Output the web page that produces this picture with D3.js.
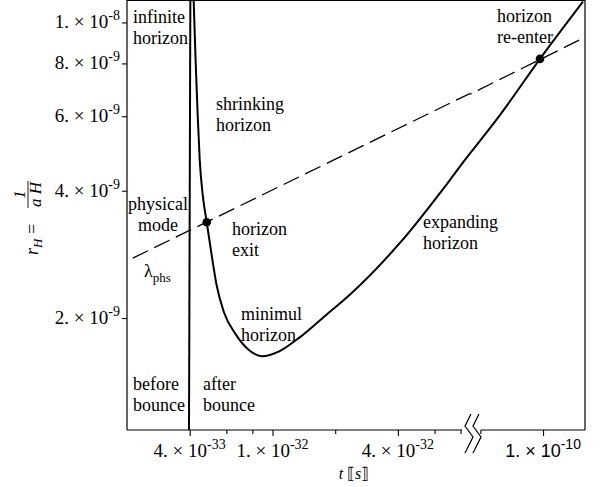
<!DOCTYPE html>
<html>
<head>
<meta charset="utf-8">
<script src="https://cdn.jsdelivr.net/npm/d3@7"></script>
<style>
  body { margin: 0; background: #fff; }
</style>
</head>
<body>
<div id="chart"></div>
<script>
// chart size and the plot frame
const width = 604;
const height = 487;
const margin = { left: 127, right: 19, top: 0, bottom: 57 };
const breakX = 470; // where the time axis is cut
const serif = "'Liberation Serif', 'DejaVu Serif', 'Times New Roman', serif";

// horizon radius after the bounce (t in s, r_H)
const afterT = [4.18e-33, 4.27e-33, 4.37e-33, 4.47e-33, 4.62e-33, 4.83e-33, 5.10e-33, 5.39e-33,
  5.83e-33, 6.66e-33, 7.60e-33, 8.88e-33, 1.083e-32, 1.35e-32, 1.78e-32, 2.35e-32, 4.09e-32,
  7.11e-32, 8.4e-32, 4.71e-11, 6.21e-11, 9.67e-11, 1.556e-10];
const afterR = [1.13e-8, 8.15e-9, 6.04e-9, 4.73e-9, 3.91e-9, 3.37e-9, 2.82e-9, 2.39e-9,
  2.07e-9, 1.83e-9, 1.69e-9, 1.625e-9, 1.671e-9, 1.80e-9, 2.02e-9, 2.27e-9, 3.01e-9,
  4.24e-9, 4.73e-9, 5.07e-9, 6.04e-9, 8.2e-9, 1.12e-8];

// before the bounce (nearly vertical)
const beforeT = [3.97e-33, 4.03e-33];
const beforeR = [1.087e-9, 1.13e-8];

// physical mode wavelength (dashed)
const modeT = [2.13e-33, 8.8e-32, 4.5e-11, 1.557e-10];
const modeR = [2.77e-9, 6.78e-9, 6.78e-9, 9.18e-9];

// crossing points
const crossT = [4.83e-33, 9.67e-11];
const crossR = [3.37e-9, 8.2e-9];

// ticks
const xTicksEarly = [4e-33, 6e-33, 8e-33, 1e-32, 2e-32, 4e-32, 6e-32, 8e-32];
const xTicksLate = [5e-11, 1e-10];
const xLabelValues = [4e-33, 1e-32, 4e-32, 1e-10];
const xLabelMant = ["4. \u00d7 10", "1. \u00d7 10", "4. \u00d7 10", "1. \u00d7 10"];
const xLabelExp = ["-33", "-32", "-32", "-10"];
const yTickValues = [2e-9, 4e-9, 6e-9, 8e-9, 1e-8];
const yLabelMant = ["2. \u00d7 10", "4. \u00d7 10", "6. \u00d7 10", "8. \u00d7 10", "1. \u00d7 10"];
const yLabelExp = ["-9", "-9", "-9", "-9", "-8"];

const svg = d3.select("#chart")
  .append("svg")
  .attr("width", width)
  .attr("height", height)
  .attr("viewBox", [0, 0, width, height])
  .attr("font-family", serif);

const plotRight = width - margin.right;
const plotBottom = height - margin.bottom;

// broken log axis: two pieces with the same scale per decade
const xEarly = d3.scaleLog().domain([2e-33, 8.88e-32]).range([margin.left, breakX]);
const xLate = d3.scaleLog().domain([4.46e-11, 1.59e-10]).range([breakX, plotRight]);
const x = t => (t < 1e-20 ? xEarly(t) : xLate(t));
const y = d3.scaleLog().domain([1.087e-9, 1.13e-8]).range([plotBottom, margin.top]);

svg.append("clipPath").attr("id", "clip")
  .append("rect")
  .attr("x", margin.left).attr("y", margin.top)
  .attr("width", plotRight - margin.left).attr("height", plotBottom - margin.top);

const plot = svg.append("g").attr("clip-path", "url(#clip)");

// dashed physical mode
plot.append("path")
  .datum(d3.zip(modeT, modeR))
  .attr("fill", "none")
  .attr("stroke", "#000")
  .attr("stroke-width", 1.3)
  .attr("stroke-dasharray", "17,7")
  .attr("d", d3.line().x(d => x(d[0])).y(d => y(d[1])));

// before bounce
plot.append("path")
  .datum(d3.zip(beforeT, beforeR))
  .attr("fill", "none")
  .attr("stroke", "#000")
  .attr("stroke-width", 2)
  .attr("d", d3.line().x(d => x(d[0])).y(d => y(d[1])));

// after bounce
plot.append("path")
  .datum(d3.zip(afterT, afterR))
  .attr("fill", "none")
  .attr("stroke", "#000")
  .attr("stroke-width", 2)
  .attr("d", d3.line().x(d => x(d[0])).y(d => y(d[1])).curve(d3.curveMonotoneX));

// dots
svg.selectAll(".dot")
  .data(d3.zip(crossT, crossR))
  .enter()
  .append("circle")
  .attr("class", "dot")
  .attr("cx", d => x(d[0]))
  .attr("cy", d => y(d[1]))
  .attr("r", 4.3)
  .attr("fill", "#000");

// frame
const frame = svg.append("g").attr("stroke", "#000").attr("stroke-width", 1.2).attr("fill", "none");
frame.append("path").attr("d", `M${margin.left},${plotBottom}V${margin.top + 0.5}H${plotRight}V${plotBottom}`);
frame.append("path").attr("d", `M${margin.left},${plotBottom}H${breakX - 8}`);
frame.append("path").attr("d", `M${breakX + 11},${plotBottom}H${plotRight}`);

// axis break marks
[breakX - 4, breakX + 4].forEach(bx => {
  frame.append("path")
    .attr("d", `M${bx + 5},${plotBottom - 16}L${bx - 1},${plotBottom - 4}L${bx + 7},${plotBottom + 7}L${bx - 1},${plotBottom + 23}`);
});

// x ticks
function xTicks(scale, vals) {
  const g = svg.append("g")
    .attr("transform", `translate(0,${plotBottom})`)
    .call(d3.axisBottom(scale).tickValues(vals).tickSize(4).tickSizeOuter(0).tickFormat(""));
  g.select(".domain").remove();
  g.selectAll(".tick line").attr("stroke-width", 1.1)
    .attr("y2", d => (xLabelValues.includes(d) ? 6 : 4));
}
xTicks(xEarly, xTicksEarly);
xTicks(xLate, xTicksLate);

// y ticks
const yAxis = svg.append("g")
  .attr("transform", `translate(${margin.left},0)`)
  .call(d3.axisLeft(y).tickValues(yTickValues).tickSize(5).tickSizeOuter(0).tickFormat(""));
yAxis.select(".domain").remove();
yAxis.selectAll(".tick line").attr("stroke-width", 1.1);

// tick labels
xLabelValues.forEach((v, i) => {
  const late = v > 1e-20;
  const t = svg.append("text")
    .attr("x", x(v))
    .attr("y", 457)
    .attr("text-anchor", "middle")
    .attr("font-size", late ? 18 : 19)
    .attr("font-family", late ? "'Liberation Sans', Arial, sans-serif" : serif);
  t.append("tspan").text(xLabelMant[i]);
  t.append("tspan").attr("dy", -8).attr("font-size", 14).text(xLabelExp[i]);
});

yTickValues.forEach((v, i) => {
  const t = svg.append("text")
    .attr("x", 120)
    .attr("y", y(v) + 6)
    .attr("text-anchor", "end")
    .attr("font-size", 19);
  t.append("tspan").text(yLabelMant[i]);
  t.append("tspan").attr("dy", -8).attr("font-size", 14).text(yLabelExp[i]);
});

// axis titles
const xt = svg.append("text")
  .attr("x", 354).attr("y", 479)
  .attr("text-anchor", "middle")
  .attr("font-size", 16);
xt.append("tspan").attr("font-style", "italic").text("t");
xt.append("tspan").text(" \u27E6");
xt.append("tspan").attr("font-style", "italic").text("s");
xt.append("tspan").text("\u27E7");

const yt = svg.append("g").attr("transform", "translate(38,218) rotate(-90)");
const rh = yt.append("text").attr("x", -37).attr("y", 0).attr("font-size", 18);
rh.append("tspan").attr("font-style", "italic").text("r");
rh.append("tspan").attr("font-style", "italic").attr("font-size", 13).attr("dy", 4).text("H");
rh.append("tspan").attr("dy", -4).text(" =");
yt.append("line").attr("x1", 10).attr("x2", 37).attr("y1", -10).attr("y2", -10)
  .attr("stroke", "#000").attr("stroke-width", 0.9);
yt.append("text").attr("x", 23.5).attr("y", -13).attr("text-anchor", "middle")
  .attr("font-size", 17).attr("font-style", "italic").text("1");
yt.append("text").attr("x", 23.5).attr("y", 3).attr("text-anchor", "middle")
  .attr("font-size", 17).attr("font-style", "italic").text("a H");

// annotations
const notes = [
  { x: 133, y: 23, lines: ["infinite", "horizon"], anchor: "start" },
  { x: 216, y: 110, lines: ["shrinking", "horizon"], anchor: "start" },
  { x: 158, y: 210, lines: ["physical", "mode"], anchor: "middle" },
  { x: 232, y: 235, lines: ["horizon", "exit"], anchor: "start" },
  { x: 241, y: 320, lines: ["minimul", "horizon"], anchor: "start" },
  { x: 423, y: 228, lines: ["expanding", "horizon"], anchor: "start" },
  { x: 133, y: 390, lines: ["before", "bounce"], anchor: "start" },
  { x: 203, y: 390, lines: ["after", "bounce"], anchor: "start" },
  { x: 497, y: 22, lines: ["horizon", "re-enter"], anchor: "start" }
];
notes.forEach(n => {
  const t = svg.append("text")
    .attr("x", n.x).attr("y", n.y)
    .attr("text-anchor", n.anchor)
    .attr("font-size", 18);
  n.lines.forEach((l, i) => {
    t.append("tspan").attr("x", n.x).attr("dy", i === 0 ? 0 : 21).text(l);
  });
});

const lam = svg.append("text").attr("x", 144).attr("y", 277).attr("font-size", 18);
lam.append("tspan").text("\u03bb");
lam.append("tspan").attr("dy", 5).attr("font-size", 13).text("phs");
</script>
</body>
</html>
